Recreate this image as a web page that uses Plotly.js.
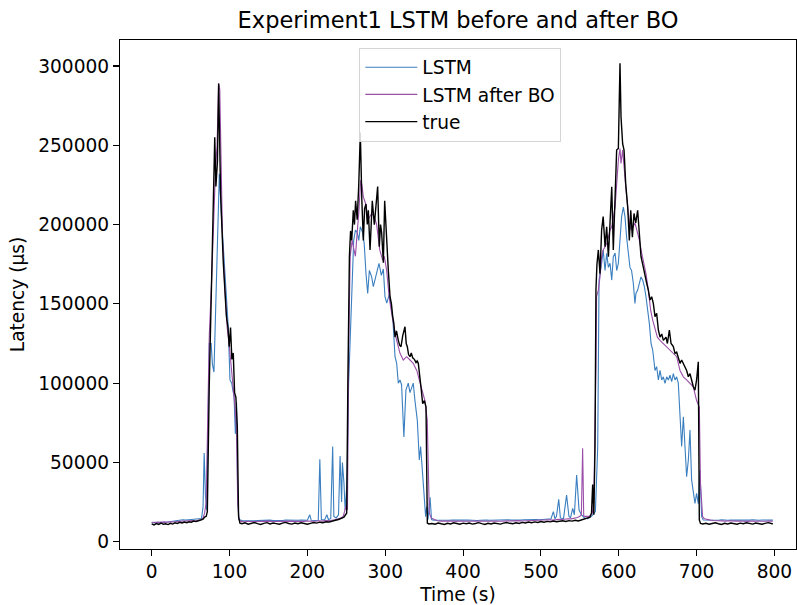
<!DOCTYPE html>
<html>
<head>
<meta charset="utf-8">
<script src="https://cdn.plot.ly/plotly-3.0.1.min.js"></script>
<style>html,body{margin:0;padding:0;background:#fff;}#chart{width:797px;height:605px;}</style>
</head>
<body>
<div id="chart"></div>
<script>
// Latency values are in thousands of µs (k µs); time in seconds.
const trueTime = [0,3,6,9,12,15,18,21,24,27,30,33,36,39,42,45,48,51,54,57,60,63,
 66,68,70,71.5,74,77,79,81,82.5,84.5,86,88.5,92,94,96,98,99.6,101.3,103,104.8,106.5,108.2,110,111.6,113.4,
 116,120,124,128,132,136,140,144,148,152,156,160,164,168,172,176,180,184,188,192,196,200,204,208,212,216,220,224,228,232,236,240,244,
 247,249,250.5,252,254,255.5,257,259,260.5,262,264,266,268,270,271.9,273.5,275.3,277,278.3,280.5,282,283.4,286,288,290.3,292.4,294,295.4,297.6,299.3,301.9,304,306.2,308,309.6,311,312.6,314.5,316.8,318.5,320.3,322.5,325.4,327,328.4,330,331.8,333.5,335.3,337.5,339.6,341,342.5,344.7,346.5,348.1,350.3,352.4,354.1,356,
 360,364,368,372,376,380,384,388,392,396,400,404,408,412,416,420,424,428,432,436,440,444,448,452,456,460,464,468,472,476,480,484,488,492,496,500,504,508,512,516,520,524,528,532,536,540,544,548,552,556,560,
 563,565,566.5,568,569.5,570.7,572,573.8,575.9,578,580,582.4,584.5,586.7,588.8,591,593,595,597.3,599.5,601.6,602.9,605,606.8,608.9,611.5,613.6,615.4,617.5,619.6,621.8,624.3,626.5,628.6,631.6,633.7,635.9,638,640.2,642.3,644.4,646.6,648.7,650.9,653,655.2,657.3,660.7,662.5,665,667.2,670.1,672.3,674.4,676.5,678.7,680.8,683,685.1,687.2,689.4,691.5,693.6,695.8,697.9,700,702.2,703.5,705,
 708,712,716,720,724,728,732,736,740,744,748,752,756,760,764,768,772,776,780,784,788,792,796,798];
const trueLatencyK = [11.2,10.6,11.4,10.9,11.7,11.0,11.3,10.8,11.6,11.1,11.9,11.5,12.2,11.8,12.4,12.0,12.6,12.3,13.0,12.7,13.2,13.6,
 14.2,15.5,16,19,100,165,210,255,224,240,289,220,176,160,142,135,123,135,115,119,94,91,72.5,15.8,11.7,
 11.3,11.9,11.0,11.7,12.1,11.4,10.9,11.6,12.0,11.2,11.8,11.4,11.0,11.7,12.2,11.5,11.1,11.8,11.3,11.9,11.5,11.0,11.6,12.1,11.7,12.3,12.0,12.6,12.4,13.1,13.5,14.0,14.8,
 15.5,17,18,100,180,196,190,209,200,215,203,225,258,215,190,210,213,200,209,184,205,215,200,212,224,186,200,195,176,215,186,171,154.5,150,142,138,129,133,127,124,123,130,135.6,125,123,118,116.7,119,116,115,113,114,112.5,104,95,87,89,85,11.7,11.2,
 11.5,11.0,11.8,11.3,10.9,11.6,11.2,11.9,11.4,11.0,11.7,11.3,11.8,11.1,11.5,12.0,11.4,10.9,11.6,11.2,11.8,11.5,11.1,11.7,12.1,11.6,11.3,11.9,11.5,12.2,11.8,12.4,12.0,12.5,12.1,12.7,12.3,12.8,12.5,13.0,12.6,12.9,13.2,12.8,13.3,13.0,13.5,13.1,13.7,14.2,14.8,
 15.5,18,36,17,60,158.7,175,184,169,196.6,205,186,198.6,179.7,201,223.9,184,211,247,248,301.7,268,251,247,226,211,190,209,192,207,201,209,192,179.7,173,169,163,158.7,152.4,154.5,150.3,141.9,144,133.5,129,131,127,129,125,133.5,125,123,118.8,119.5,116.7,112.5,114.6,112.5,110.4,108,104,106,102,97.7,95.6,102,113.5,13.7,11.5,
 11.2,11.6,11.0,11.5,11.9,11.3,10.9,11.6,11.2,11.8,11.4,11.0,11.7,11.3,11.9,11.5,11.1,11.8,11.4,11.0,11.6,12.0,11.5,11.3];

const lstmTime = [0,4,8,12,16,20,24,28,32,36,40,44,48,52,56,60,64,
 66,67.4,69,70.7,72,74,76.4,78,80,86.9,89.9,94.2,98.4,100.6,102.8,104.5,105.8,107.5,109,110.5,112,
 116,120,124,128,132,136,140,144,148,152,156,160,164,168,172,176,180,184,188,192,196,200,
 203,205,210,214,216,218,222,225,227,230,232.5,234,237,240,242,244,245,247,248.5,250.9,253,257.5,259.5,261.7,264,266,268,271,273,275.3,277.5,279.6,282.6,284.7,288,290,292,295,297.6,299.7,302,305.2,309.6,312.6,314.7,316.8,319,321,324,326.6,329.6,331.8,334,336,338.2,341.2,343.8,345.5,348.9,351.9,353.2,355,357.6,359.5,
 362,366,370,374,378,382,386,390,394,398,402,406,410,414,418,422,426,430,434,438,442,446,450,454,458,462,466,470,474,478,482,486,490,494,498,502,506,510,
 513,516,518,520,522.9,525,529,533,536,538,540.8,543,545.9,549,552,556,560,565,568,570,573,574.7,578,580,582.4,584.5,586.7,588.8,591,593,595.3,597.4,599.5,601.6,603.7,605.9,608,610.1,612.3,614.4,616.5,618.7,620.8,622.1,624.3,626.5,628.6,630.7,632.9,635,637.2,639.3,641.5,643.6,646.6,648.7,650.9,653,655.2,657.3,659.4,661.6,663.7,665.9,668,670.1,672.3,674.4,676.5,678.7,680.8,683,685.1,687.2,689.4,691.5,693.6,695.8,697.9,700,702.2,704.3,706.5,708.6,
 712,716,720,724,728,732,736,740,744,748,752,756,760,764,768,772,776,780,784,788,792,796,798];
const lstmLatencyK = [12.0,12.2,11.9,12.3,12.1,12.4,12.6,12.8,13.2,13.6,13.8,13.7,13.9,14.1,14.0,14.2,14.6,
 22,56,30,20,60,125,125,112,107,232,203,169,135,102,100,95,92,68,88,30,14,
 13.4,13.3,13.5,13.4,13.2,13.4,13.5,13.3,13.4,13.6,13.4,13.3,13.5,13.4,13.6,13.5,13.3,13.4,13.5,13.6,13.4,13.5,
 17,13.5,13.4,13.5,52,14,13.6,17,14,14.5,60,16,15,17,54,25,50,37,20,37,100,173,190,196.5,195,190,198.6,195,188,169,156.6,171,167,160.8,168,172,175.6,168,172,154.5,150.5,156,142,116.7,112.5,100,102,99,66,95.6,100,94,98,100,89,76.7,51.5,60,36.8,15.8,22,14,28,14,
 13.6,13.5,13.7,13.6,13.4,13.5,13.7,13.6,13.5,13.4,13.6,13.7,13.5,13.6,13.4,13.5,13.7,13.6,13.5,13.6,13.4,13.5,13.7,13.6,13.8,13.6,13.5,13.7,13.6,13.8,13.9,13.7,13.8,14.0,13.8,13.9,14.1,14.0,
 14.5,19,14.5,16,26.7,15,14.5,29.4,16,15,21,17,42,20,17,15,14.5,16,18,19,60,165,175.6,184,171,181.9,173,175.6,165,179.7,182,171,175.6,190,205,211,205,192,179.7,173,171,163,150.3,156.6,158.7,163,167,165,160.8,154.5,146,137.7,125,120.9,108,110.4,102,108,102,104,99.9,104,102,105,101,106,102,104,100,74.6,60,78.8,58,41,51.5,70.4,39,32.6,24.2,30.5,24,45,15.8,13.7,
 13.6,13.5,13.7,13.6,13.5,13.8,13.6,13.5,13.7,13.6,13.4,13.6,13.7,13.5,13.6,13.8,13.6,13.5,13.7,13.6,13.8,13.7,13.6];

const boTime = [0,4,8,12,16,20,24,28,32,36,40,44,48,52,56,60,64,
 66,68,70,72,74,77,80,82,84,86,87.5,89,91,94,97,100,103,105,107,109,110.5,112,
 115,119,123,127,131,135,139,143,147,151,155,159,163,167,171,175,179,183,187,191,195,199,203,207,211,215,219,223,227,231,235,239,243,
 246,248,250,251.5,253,255,257.5,259.5,261.7,264,266,268.5,270,271.9,275,278,282.6,286,289,293,296.7,298.8,301.9,305,309.6,314.7,319,323.2,327.5,331.8,336,340.5,344.7,348,351,354,356.7,359,363,
 367,371,375,379,383,387,391,395,399,403,407,411,415,419,423,427,431,435,439,443,447,451,455,459,463,467,471,475,479,483,487,491,495,499,503,507,511,515,519,523,527,531,535,539,543,547,
 550,552,553.6,555,558,562,566,568,570.7,571.5,573.8,575.9,578,580,582.4,584.5,586.7,588.8,591,593,595.3,597.4,599.5,601.6,602.9,605,607,609.3,612.3,614.4,616.5,618.7,620.8,623,626.5,629.5,632.5,635,638,641,643.6,646.6,649.6,653,657.3,661.6,665.9,670.1,674.4,678.7,683,687.2,691.5,695.8,700,703.5,705,707.7,710,
 714,718,722,726,730,734,738,742,746,750,754,758,762,766,770,774,778,782,786,790,794,798];
const boLatencyK = [12.3,12.1,12.4,12.2,12.5,12.3,12.6,12.4,12.7,12.9,12.8,13.0,13.1,13.3,13.2,13.5,13.8,
 15,18,25,70,130,165,215,235,250,289,285,240,190,160,135,122,108,95,85,70,25,14,
 12.8,12.6,12.9,12.7,12.8,12.6,12.9,12.7,12.8,13.0,12.7,12.8,12.6,12.9,12.7,12.8,13.0,12.8,12.7,12.9,12.8,13.0,12.9,13.1,12.9,13.2,13.0,13.3,13.2,13.5,13.8,14.3,15.0,
 16,20,23,20,120,180,190,185,180,195,207,228,225,217.5,213,203,207,205,200,184,177.6,180,171,154.5,139.8,127,118.8,114.6,116.7,114.6,112.5,108,100,93.6,89,76.7,18,15,14,
 13.2,13.0,13.1,12.9,13.0,13.1,12.8,13.0,13.1,12.9,13.0,13.2,12.9,13.0,13.1,12.9,13.0,13.2,13.0,13.1,12.9,13.0,13.2,13.1,13.0,13.2,13.3,13.1,13.2,13.4,13.3,13.5,13.4,13.6,13.5,13.7,13.8,13.6,13.9,14.1,14.0,14.3,14.5,14.4,14.8,15.2,
 16,17,59,16,16,16,18,25,110,154.5,158.7,167,179.7,184,186,188,192,196.6,198.6,205,211,226,240.7,248,238.6,247,234,222,207,198.6,196.6,198.6,201,197,190,181.9,175.6,169,158.7,146,139.8,133.5,129,127,125,123,121,118.8,116.7,108,104,102,100,97.7,89,85,36.8,15.8,14.5,
 13.9,13.6,13.4,13.2,13.3,13.1,13.0,13.2,12.9,13.0,13.1,12.9,13.0,12.8,13.0,12.9,13.1,12.8,13.0,12.9,13.1,12.9];

const seriesNames = ['LSTM', 'LSTM after BO', 'true'];
const xTicks = [0,100,200,300,400,500,600,700,800];
const yTicks = [0,50000,100000,150000,200000,250000,300000];

const toMicro = a => a.map(v => v * 1000);
const font = {family: 'DejaVu Sans, sans-serif', color: '#000'};
const fs = 18.6;

const traces = [
  {x: lstmTime, y: toMicro(lstmLatencyK), name: seriesNames[0], mode: 'lines', line: {color: '#3a7fc0', width: 1.1}},
  {x: boTime, y: toMicro(boLatencyK), name: seriesNames[1], mode: 'lines', line: {color: '#9a4ea8', width: 1.1}},
  {x: trueTime, y: toMicro(trueLatencyK), name: seriesNames[2], mode: 'lines', line: {color: '#000000', width: 1.4}}
];

const axisCommon = {
  showgrid: false, zeroline: false, showline: true, linecolor: '#000', linewidth: 1.1, mirror: true,
  ticks: 'outside', ticklen: 6, tickwidth: 1.1, tickcolor: '#000',
  tickfont: Object.assign({size: fs}, font)
};

const layout = {
  width: 797, height: 605,
  margin: {l: 120, r: 1, t: 40, b: 56},
  paper_bgcolor: '#fff', plot_bgcolor: '#fff',
  font: Object.assign({size: fs}, font),
  title: {text: 'Experiment1 LSTM before and after BO', font: Object.assign({size: 22.5}, font),
          x: 0.5, xref: 'paper', xanchor: 'center', y: 0.966, yref: 'container', yanchor: 'middle'},
  xaxis: Object.assign({}, axisCommon, {range: [-40.7, 827.7], tickvals: xTicks, ticktext: xTicks.map(String),
          title: {text: 'Time (s)', font: Object.assign({size: fs}, font), standoff: 10}}),
  yaxis: Object.assign({}, axisCommon, {range: [-4600, 316400], tickvals: yTicks, ticktext: yTicks.map(String),
          title: {text: 'Latency (µs)', font: Object.assign({size: fs}, font), standoff: 8}}),
  showlegend: true,
  legend: {x: 0.354, y: 0.985, xanchor: 'left', yanchor: 'top', bgcolor: 'rgba(255,255,255,0.85)',
           bordercolor: '#d5d5d5', borderwidth: 1, itemwidth: 52, font: Object.assign({size: fs}, font)}
};

Plotly.newPlot('chart', traces, layout, {staticPlot: true, displayModeBar: false});
</script>
</body>
</html>
